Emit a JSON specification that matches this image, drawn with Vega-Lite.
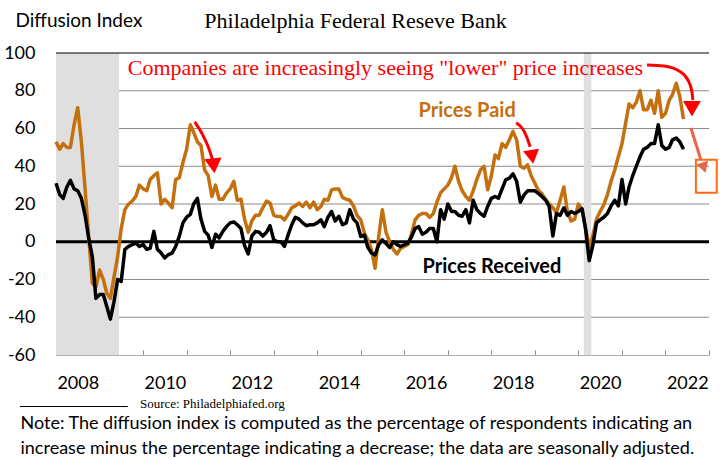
{
  "$schema": "https://vega.github.io/schema/vega-lite/v6.json",
  "width": 653,
  "height": 302,
  "autosize": {"type": "none"},
  "padding": {"left": 56, "top": 53, "right": 13, "bottom": 105},
  "background": "white",
  "config": {"view": {"stroke": null}, "font": "Lato", "axisY": {"labelOverlap": false}, "axis": {"labelOverlap": false}},
  "title": {
    "text": "Philadelphia Federal Reseve Bank",
    "font": "Liberation Serif",
    "fontSize": 22,
    "fontWeight": "normal",
    "color": "black",
    "anchor": "middle",
    "frame": "group",
    "dx": -27,
    "dy": 32,
    "offset": 10
  },
  "datasets": {
    "series": [
      {"date": "2008-01-01", "paid": 53, "received": 31},
      {"date": "2008-02-01", "paid": 49, "received": 25},
      {"date": "2008-03-01", "paid": 52, "received": 23},
      {"date": "2008-04-01", "paid": 50, "received": 29},
      {"date": "2008-05-01", "paid": 50, "received": 32.5},
      {"date": "2008-06-01", "paid": 62, "received": 28},
      {"date": "2008-07-01", "paid": 71, "received": 27},
      {"date": "2008-08-01", "paid": 53, "received": 23},
      {"date": "2008-09-01", "paid": 28, "received": 14},
      {"date": "2008-10-01", "paid": 3, "received": 2},
      {"date": "2008-11-01", "paid": -22, "received": -8},
      {"date": "2008-12-01", "paid": -24, "received": -30},
      {"date": "2009-01-01", "paid": -15, "received": -28},
      {"date": "2009-02-01", "paid": -20, "received": -28},
      {"date": "2009-03-01", "paid": -27, "received": -34},
      {"date": "2009-04-01", "paid": -30, "received": -41},
      {"date": "2009-05-01", "paid": -19, "received": -32},
      {"date": "2009-06-01", "paid": -8, "received": -20},
      {"date": "2009-07-01", "paid": 7, "received": -21},
      {"date": "2009-08-01", "paid": 17, "received": -4},
      {"date": "2009-09-01", "paid": 20, "received": -2.5},
      {"date": "2009-10-01", "paid": 21.5, "received": -1.5},
      {"date": "2009-11-01", "paid": 24, "received": -0.7},
      {"date": "2009-12-01", "paid": 30, "received": -2.5},
      {"date": "2010-01-01", "paid": 28, "received": -1.5},
      {"date": "2010-02-01", "paid": 27, "received": -4},
      {"date": "2010-03-01", "paid": 33, "received": -3.5},
      {"date": "2010-04-01", "paid": 35, "received": 5.5},
      {"date": "2010-05-01", "paid": 36.5, "received": -4},
      {"date": "2010-06-01", "paid": 20, "received": -6},
      {"date": "2010-07-01", "paid": 22.5, "received": -8.6},
      {"date": "2010-08-01", "paid": 20.5, "received": -6.8},
      {"date": "2010-09-01", "paid": 18, "received": -6},
      {"date": "2010-10-01", "paid": 33, "received": -2.5},
      {"date": "2010-11-01", "paid": 34, "received": 3},
      {"date": "2010-12-01", "paid": 42, "received": 10},
      {"date": "2011-01-01", "paid": 49, "received": 13},
      {"date": "2011-02-01", "paid": 62, "received": 14.5},
      {"date": "2011-03-01", "paid": 58, "received": 20},
      {"date": "2011-04-01", "paid": 53, "received": 23},
      {"date": "2011-05-01", "paid": 51, "received": 12},
      {"date": "2011-06-01", "paid": 38, "received": 5.5},
      {"date": "2011-07-01", "paid": 35, "received": 3.5},
      {"date": "2011-08-01", "paid": 24, "received": -3},
      {"date": "2011-09-01", "paid": 30, "received": 4},
      {"date": "2011-10-01", "paid": 22.5, "received": 2},
      {"date": "2011-11-01", "paid": 22.5, "received": 5.5},
      {"date": "2011-12-01", "paid": 25.8, "received": 8},
      {"date": "2012-01-01", "paid": 28, "received": 10},
      {"date": "2012-02-01", "paid": 32, "received": 10.5},
      {"date": "2012-03-01", "paid": 22, "received": 9},
      {"date": "2012-04-01", "paid": 22.5, "received": 7},
      {"date": "2012-05-01", "paid": 12, "received": -2},
      {"date": "2012-06-01", "paid": 5, "received": -6.5},
      {"date": "2012-07-01", "paid": 11, "received": 3},
      {"date": "2012-08-01", "paid": 14, "received": 5.5},
      {"date": "2012-09-01", "paid": 14, "received": 5},
      {"date": "2012-10-01", "paid": 18, "received": 3},
      {"date": "2012-11-01", "paid": 21.5, "received": 5},
      {"date": "2012-12-01", "paid": 20.5, "received": 8.5},
      {"date": "2013-01-01", "paid": 14, "received": 1},
      {"date": "2013-02-01", "paid": 13.4, "received": 0},
      {"date": "2013-03-01", "paid": 13.4, "received": 0},
      {"date": "2013-04-01", "paid": 11.6, "received": -2.5},
      {"date": "2013-05-01", "paid": 14.5, "received": 3.5},
      {"date": "2013-06-01", "paid": 18, "received": 9},
      {"date": "2013-07-01", "paid": 19, "received": 13},
      {"date": "2013-08-01", "paid": 20.5, "received": 12},
      {"date": "2013-09-01", "paid": 18.7, "received": 10},
      {"date": "2013-10-01", "paid": 21, "received": 8.5},
      {"date": "2013-11-01", "paid": 18, "received": 9},
      {"date": "2013-12-01", "paid": 21, "received": 9},
      {"date": "2014-01-01", "paid": 17, "received": 10},
      {"date": "2014-02-01", "paid": 18.7, "received": 11.6},
      {"date": "2014-03-01", "paid": 22.5, "received": 8},
      {"date": "2014-04-01", "paid": 22, "received": 13},
      {"date": "2014-05-01", "paid": 27.5, "received": 16},
      {"date": "2014-06-01", "paid": 28, "received": 11},
      {"date": "2014-07-01", "paid": 28, "received": 13.5},
      {"date": "2014-08-01", "paid": 23.5, "received": 9},
      {"date": "2014-09-01", "paid": 22.5, "received": 10},
      {"date": "2014-10-01", "paid": 22, "received": 17},
      {"date": "2014-11-01", "paid": 19, "received": 12},
      {"date": "2014-12-01", "paid": 14, "received": 10},
      {"date": "2015-01-01", "paid": 11.6, "received": 2.8},
      {"date": "2015-02-01", "paid": 4.5, "received": 3.5},
      {"date": "2015-03-01", "paid": 1, "received": -3},
      {"date": "2015-04-01", "paid": -4, "received": -6},
      {"date": "2015-05-01", "paid": -14, "received": -7},
      {"date": "2015-06-01", "paid": 3, "received": -1.5},
      {"date": "2015-07-01", "paid": 17, "received": 1},
      {"date": "2015-08-01", "paid": 5, "received": -1},
      {"date": "2015-09-01", "paid": 0, "received": -3},
      {"date": "2015-10-01", "paid": -4, "received": 0},
      {"date": "2015-11-01", "paid": -6.5, "received": -1.5},
      {"date": "2015-12-01", "paid": -3.5, "received": -2.5},
      {"date": "2016-01-01", "paid": -2.5, "received": -1.6},
      {"date": "2016-02-01", "paid": -1.6, "received": -0.7},
      {"date": "2016-03-01", "paid": 4, "received": 2.5},
      {"date": "2016-04-01", "paid": 11.6, "received": 7},
      {"date": "2016-05-01", "paid": 14, "received": 8},
      {"date": "2016-06-01", "paid": 15, "received": 4},
      {"date": "2016-07-01", "paid": 15, "received": 5},
      {"date": "2016-08-01", "paid": 13, "received": 7},
      {"date": "2016-09-01", "paid": 15, "received": 7},
      {"date": "2016-10-01", "paid": 21, "received": 0},
      {"date": "2016-11-01", "paid": 26, "received": 17},
      {"date": "2016-12-01", "paid": 28, "received": 12},
      {"date": "2017-01-01", "paid": 30, "received": 20},
      {"date": "2017-02-01", "paid": 34, "received": 16},
      {"date": "2017-03-01", "paid": 40, "received": 16},
      {"date": "2017-04-01", "paid": 32, "received": 14},
      {"date": "2017-05-01", "paid": 27, "received": 13.5},
      {"date": "2017-06-01", "paid": 24, "received": 17},
      {"date": "2017-07-01", "paid": 22, "received": 10},
      {"date": "2017-08-01", "paid": 27, "received": 22},
      {"date": "2017-09-01", "paid": 33, "received": 17},
      {"date": "2017-10-01", "paid": 38, "received": 15},
      {"date": "2017-11-01", "paid": 40, "received": 13.5},
      {"date": "2017-12-01", "paid": 27.5, "received": 18.7},
      {"date": "2018-01-01", "paid": 35, "received": 23},
      {"date": "2018-02-01", "paid": 46, "received": 24},
      {"date": "2018-03-01", "paid": 44, "received": 23},
      {"date": "2018-04-01", "paid": 52, "received": 28},
      {"date": "2018-05-01", "paid": 50, "received": 32.8},
      {"date": "2018-06-01", "paid": 54, "received": 33.7},
      {"date": "2018-07-01", "paid": 58.5, "received": 36},
      {"date": "2018-08-01", "paid": 54, "received": 32},
      {"date": "2018-09-01", "paid": 40, "received": 21},
      {"date": "2018-10-01", "paid": 39, "received": 24.7},
      {"date": "2018-11-01", "paid": 40.7, "received": 27},
      {"date": "2018-12-01", "paid": 35, "received": 27},
      {"date": "2019-01-01", "paid": 31, "received": 27},
      {"date": "2019-02-01", "paid": 27, "received": 25.5},
      {"date": "2019-03-01", "paid": 25.5, "received": 24},
      {"date": "2019-04-01", "paid": 22.5, "received": 22},
      {"date": "2019-05-01", "paid": 20, "received": 18.7},
      {"date": "2019-06-01", "paid": 18, "received": 3},
      {"date": "2019-07-01", "paid": 15.5, "received": 15},
      {"date": "2019-08-01", "paid": 22, "received": 14},
      {"date": "2019-09-01", "paid": 29, "received": 18},
      {"date": "2019-10-01", "paid": 16, "received": 14},
      {"date": "2019-11-01", "paid": 11, "received": 16},
      {"date": "2019-12-01", "paid": 12, "received": 15},
      {"date": "2020-01-01", "paid": 20, "received": 16},
      {"date": "2020-02-01", "paid": 17, "received": 17.5},
      {"date": "2020-03-01", "paid": 7, "received": 7},
      {"date": "2020-04-01", "paid": -3, "received": -10},
      {"date": "2020-05-01", "paid": 3, "received": -2},
      {"date": "2020-06-01", "paid": 12, "received": 10},
      {"date": "2020-07-01", "paid": 16, "received": 11.6},
      {"date": "2020-08-01", "paid": 19.5, "received": 13},
      {"date": "2020-09-01", "paid": 25, "received": 15},
      {"date": "2020-10-01", "paid": 32, "received": 19},
      {"date": "2020-11-01", "paid": 38, "received": 22},
      {"date": "2020-12-01", "paid": 45, "received": 19},
      {"date": "2021-01-01", "paid": 52, "received": 33},
      {"date": "2021-02-01", "paid": 63, "received": 20},
      {"date": "2021-03-01", "paid": 73, "received": 29},
      {"date": "2021-04-01", "paid": 71, "received": 35},
      {"date": "2021-05-01", "paid": 74, "received": 40},
      {"date": "2021-06-01", "paid": 80, "received": 45},
      {"date": "2021-07-01", "paid": 70, "received": 49},
      {"date": "2021-08-01", "paid": 70, "received": 50},
      {"date": "2021-09-01", "paid": 75, "received": 52},
      {"date": "2021-10-01", "paid": 68, "received": 52},
      {"date": "2021-11-01", "paid": 80, "received": 62},
      {"date": "2021-12-01", "paid": 66, "received": 51},
      {"date": "2022-01-01", "paid": 68, "received": 49},
      {"date": "2022-02-01", "paid": 75, "received": 50},
      {"date": "2022-03-01", "paid": 78, "received": 54},
      {"date": "2022-04-01", "paid": 84, "received": 55},
      {"date": "2022-05-01", "paid": 77, "received": 53},
      {"date": "2022-06-01", "paid": 65, "received": 49}
    ],
    "bands": [
      {"start": "2008-01-01", "end": "2009-06-13"},
      {"start": "2020-02-16", "end": "2020-04-19"}
    ],
    "refs": [
      {"key": "top", "value": 100},
      {"key": "zero", "value": 0},
      {"key": "grid", "value": 80},
      {"key": "grid", "value": 60},
      {"key": "grid", "value": 40},
      {"key": "grid", "value": 20},
      {"key": "grid", "value": -20},
      {"key": "grid", "value": -40}
    ],
    "arrows": [
      {"arrow": "a1", "date": "2011-03-10", "value": 63.5},
      {"arrow": "a1", "date": "2011-05-16", "value": 56.6},
      {"arrow": "a1", "date": "2011-07-05", "value": 49.7},
      {"arrow": "a1", "date": "2011-08-07", "value": 43.4},
      {"arrow": "a2", "date": "2018-07-28", "value": 63.0},
      {"arrow": "a2", "date": "2018-09-25", "value": 59.3},
      {"arrow": "a2", "date": "2018-10-28", "value": 55.0},
      {"arrow": "a2", "date": "2018-11-22", "value": 50.3},
      {"arrow": "a3", "date": "2021-07-30", "value": 93.7},
      {"arrow": "a3", "date": "2021-12-19", "value": 93.1},
      {"arrow": "a3", "date": "2022-04-24", "value": 90.5},
      {"arrow": "a3", "date": "2022-07-08", "value": 85.7},
      {"arrow": "a3", "date": "2022-08-11", "value": 79.4},
      {"arrow": "a3", "date": "2022-08-19", "value": 75.1},
      {"arrow": "a4", "date": "2022-08-02", "value": 60.3},
      {"arrow": "a4", "date": "2022-10-25", "value": 43.4}
    ],
    "heads": [
      {"arrow": "a1", "date": "2011-08-16", "value": 40.2},
      {"arrow": "a2", "date": "2018-12-09", "value": 45.0},
      {"arrow": "a3", "date": "2022-08-11", "value": 70.5},
      {"arrow": "a4", "date": "2022-11-19", "value": 39.2}
    ],
    "box": [
      {"start": "2022-09-13", "end": "2023-03-07", "top": 43.4, "bottom": 25.9}
    ],
    "sourceline": [
      {"start": "2007-03-05", "end": "2009-08-26", "value": -87.3}
    ],
    "labels": [
      {"key": "note", "date": "2009-08-25", "value": 92, "text": "Companies are increasingly seeing \"lower\" price increases"},
      {"key": "paid", "date": "2016-04-30", "value": 69.3, "text": "Prices Paid"},
      {"key": "received", "date": "2016-06-02", "value": -13.2, "text": "Prices Received"},
      {"key": "source", "date": "2009-12-05", "value": -85.7, "text": "Source: Philadelphiafed.org"}
    ]
  },
  "layer": [
    {
      "data": {"name": "refs"},
      "transform": [{"filter": "datum.key == 'grid'"}],
      "mark": {"type": "rule", "color": "#8c8c8c", "strokeWidth": 1},
      "encoding": {
        "y": {
          "field": "value", "type": "quantitative",
          "scale": {"domain": [-60, 100], "nice": false, "zero": false},
          "axis": {
            "values": [-60, -40, -20, 0, 20, 40, 60, 80, 100],
            "tickCount": 9,
            "labelExpr": "'' + datum.value",
            "labelOverlap": false,
            "title": "Diffusion Index", "titleAngle": 0, "titleX": -41, "titleY": -33, "titleAlign": "left",
            "titleBaseline": "middle", "titleFont": "Lato", "titleFontSize": 19, "titleFontWeight": "normal", "titleColor": "black",
            "labelFontSize": 18, "labelColor": "black", "labelPadding": 21, "ticks": false, "tickSize": 0, "domain": false,
            "grid": false
          }
        }
      }
    },
    {
      "data": {"name": "bands"},
      "mark": {"type": "rect", "color": "#dfdfdf"},
      "encoding": {
        "x": {
          "field": "start", "type": "temporal",
          "scale": {"type": "utc", "domain": [{"year": 2008, "month": 1, "date": 1, "utc": true}, {"year": 2023, "month": 1, "date": 1, "utc": true}]},
          "axis": {
            "title": ["Note: The diffusion index is computed as the percentage of respondents indicating an", "increase minus the percentage indicating a decrease; the data are seasonally adjusted."],
            "titleX": -36, "titleY": 73, "titleAlign": "left", "titleAnchor": "start", "titleBaseline": "alphabetic",
            "titleFont": "Lato", "titleFontSize": 18, "titleFontWeight": "normal", "titleColor": "black", "titleLineHeight": 25,
            "values": [
              {"year": 2008, "month": 1, "date": 1, "utc": true}, {"year": 2009, "month": 1, "date": 1, "utc": true},
              {"year": 2010, "month": 1, "date": 1, "utc": true}, {"year": 2011, "month": 1, "date": 1, "utc": true},
              {"year": 2012, "month": 1, "date": 1, "utc": true}, {"year": 2013, "month": 1, "date": 1, "utc": true},
              {"year": 2014, "month": 1, "date": 1, "utc": true}, {"year": 2015, "month": 1, "date": 1, "utc": true},
              {"year": 2016, "month": 1, "date": 1, "utc": true}, {"year": 2017, "month": 1, "date": 1, "utc": true},
              {"year": 2018, "month": 1, "date": 1, "utc": true}, {"year": 2019, "month": 1, "date": 1, "utc": true},
              {"year": 2020, "month": 1, "date": 1, "utc": true}, {"year": 2021, "month": 1, "date": 1, "utc": true},
              {"year": 2022, "month": 1, "date": 1, "utc": true}, {"year": 2023, "month": 1, "date": 1, "utc": true}
            ],
            "labelExpr": "utcyear(datum.value) % 2 == 0 && utcyear(datum.value) < 2023 ? '' + utcyear(datum.value) : ''",
            "labelOffset": 21.8, "labelFontSize": 18, "labelColor": "black", "labelPadding": 24,
            "labelOverlap": false, "labelFlush": false, "labelBound": false,
            "tickSize": -5, "tickColor": "#8c8c8c", "domainColor": "#b0b0b0", "grid": false
          }
        },
        "x2": {"field": "end"}
      }
    },
    {
      "data": {"name": "refs"},
      "transform": [{"filter": "datum.key == 'top'"}],
      "mark": {"type": "rule", "color": "black", "strokeWidth": 1},
      "encoding": {"y": {"field": "value", "type": "quantitative"}}
    },
    {
      "data": {"name": "refs"},
      "transform": [{"filter": "datum.key == 'zero'"}],
      "mark": {"type": "rule", "color": "black", "strokeWidth": 3},
      "encoding": {"y": {"field": "value", "type": "quantitative"}}
    },
    {
      "data": {"name": "series"},
      "mark": {"type": "line", "color": "#C5700F", "strokeWidth": 3.5, "strokeJoin": "round"},
      "encoding": {
        "x": {"field": "date", "type": "temporal"},
        "y": {"field": "paid", "type": "quantitative"}
      }
    },
    {
      "data": {"name": "series"},
      "mark": {"type": "line", "color": "black", "strokeWidth": 3.5, "strokeJoin": "round"},
      "encoding": {
        "x": {"field": "date", "type": "temporal"},
        "y": {"field": "received", "type": "quantitative"}
      }
    },
    {
      "data": {"name": "arrows"},
      "transform": [{"filter": "datum.arrow != 'a4'"}],
      "mark": {"type": "line", "color": "#FF0000", "strokeWidth": 3, "interpolate": "monotone", "strokeCap": "butt"},
      "encoding": {
        "x": {"field": "date", "type": "temporal"},
        "y": {"field": "value", "type": "quantitative"},
        "detail": {"field": "arrow"}
      }
    },
    {
      "data": {"name": "arrows"},
      "transform": [{"filter": "datum.arrow == 'a4'"}],
      "mark": {"type": "line", "color": "#E8654A", "strokeWidth": 3},
      "encoding": {
        "x": {"field": "date", "type": "temporal"},
        "y": {"field": "value", "type": "quantitative"}
      }
    },
    {
      "data": {"name": "heads"},
      "transform": [{"filter": "datum.arrow == 'a1'"}],
      "mark": {"type": "point", "shape": "triangle-down", "filled": true, "color": "#FF0000", "size": 300, "angle": -6, "opacity": 1},
      "encoding": {
        "x": {"field": "date", "type": "temporal"},
        "y": {"field": "value", "type": "quantitative"}
      }
    },
    {
      "data": {"name": "heads"},
      "transform": [{"filter": "datum.arrow == 'a2'"}],
      "mark": {"type": "point", "shape": "triangle-down", "filled": true, "color": "#FF0000", "size": 260, "angle": -9, "opacity": 1},
      "encoding": {
        "x": {"field": "date", "type": "temporal"},
        "y": {"field": "value", "type": "quantitative"}
      }
    },
    {
      "data": {"name": "heads"},
      "transform": [{"filter": "datum.arrow == 'a3'"}],
      "mark": {"type": "point", "shape": "triangle-down", "filled": true, "color": "#FF0000", "size": 320, "opacity": 1},
      "encoding": {
        "x": {"field": "date", "type": "temporal"},
        "y": {"field": "value", "type": "quantitative"}
      }
    },
    {
      "data": {"name": "heads"},
      "transform": [{"filter": "datum.arrow == 'a4'"}],
      "mark": {"type": "point", "shape": "triangle-down", "filled": true, "color": "#E8654A", "size": 150, "angle": -18, "opacity": 1},
      "encoding": {
        "x": {"field": "date", "type": "temporal"},
        "y": {"field": "value", "type": "quantitative"}
      }
    },
    {
      "data": {"name": "box"},
      "mark": {"type": "rect", "fill": null, "fillOpacity": 0, "stroke": "#FF6A13", "strokeWidth": 2},
      "encoding": {
        "x": {"field": "start", "type": "temporal"},
        "x2": {"field": "end"},
        "y": {"field": "top", "type": "quantitative"},
        "y2": {"field": "bottom"}
      }
    },
    {
      "data": {"name": "sourceline"},
      "mark": {"type": "rule", "color": "black", "strokeWidth": 1},
      "encoding": {
        "x": {"field": "start", "type": "temporal"},
        "x2": {"field": "end"},
        "y": {"field": "value", "type": "quantitative"}
      }
    },
    {
      "data": {"name": "labels"},
      "transform": [{"filter": "datum.key == 'note'"}],
      "mark": {"type": "text", "font": "Liberation Serif", "fontSize": 22, "color": "#FF0000", "align": "left", "baseline": "middle"},
      "encoding": {
        "x": {"field": "date", "type": "temporal"},
        "y": {"field": "value", "type": "quantitative"},
        "text": {"field": "text"}
      }
    },
    {
      "data": {"name": "labels"},
      "transform": [{"filter": "datum.key == 'paid'"}],
      "mark": {"type": "text", "font": "Lato", "fontSize": 20, "fontWeight": "bold", "color": "#C5700F", "align": "left", "baseline": "middle"},
      "encoding": {
        "x": {"field": "date", "type": "temporal"},
        "y": {"field": "value", "type": "quantitative"},
        "text": {"field": "text"}
      }
    },
    {
      "data": {"name": "labels"},
      "transform": [{"filter": "datum.key == 'received'"}],
      "mark": {"type": "text", "font": "Lato", "fontSize": 20, "fontWeight": "bold", "color": "black", "align": "left", "baseline": "middle"},
      "encoding": {
        "x": {"field": "date", "type": "temporal"},
        "y": {"field": "value", "type": "quantitative"},
        "text": {"field": "text"}
      }
    },
    {
      "data": {"name": "labels"},
      "transform": [{"filter": "datum.key == 'source'"}],
      "mark": {"type": "text", "font": "Liberation Serif", "fontSize": 13, "color": "black", "align": "left", "baseline": "middle"},
      "encoding": {
        "x": {"field": "date", "type": "temporal"},
        "y": {"field": "value", "type": "quantitative"},
        "text": {"field": "text"}
      }
    }
  ]
}
